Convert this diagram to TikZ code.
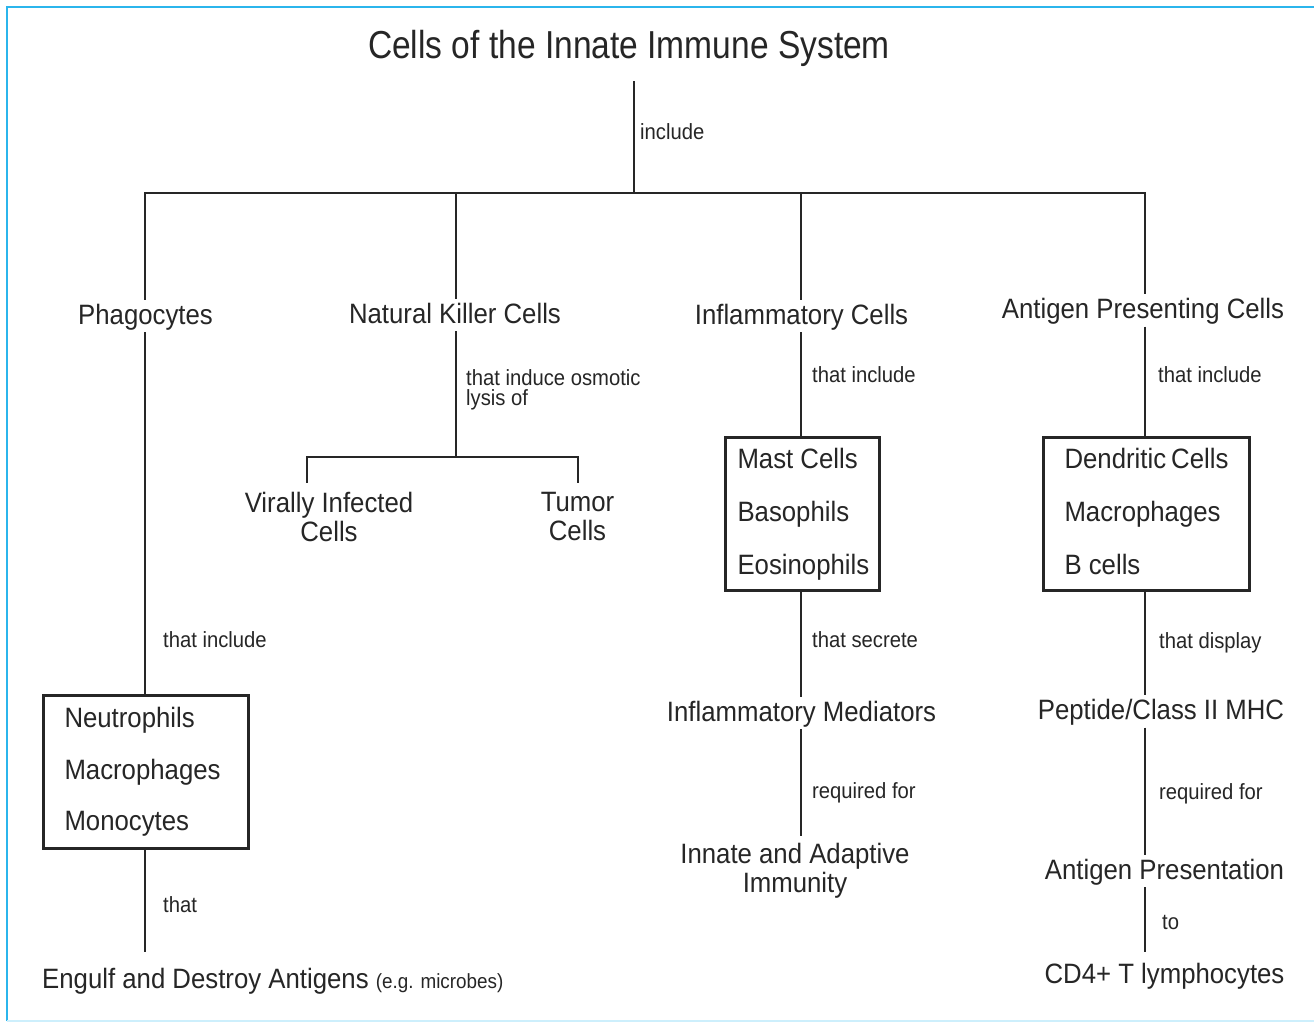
\documentclass[tikz,border=0pt]{standalone}
\usepackage{fontspec}
\setmainfont{Liberation Sans}[FakeStretch=0.92]
\newfontfamily\titlefont{Liberation Sans}[FakeStretch=0.86]
\definecolor{ink}{HTML}{262626}
\definecolor{frameblue}{HTML}{2BB5EC}
\definecolor{framelight}{HTML}{CDEFFC}
% three left-aligned lines of fixed width and fixed line pitch
\newcommand\listlines[5]{\vbox{\baselineskip=#1\relax
  \hbox to #2{#3\hfil}\hbox to #2{#4\hfil}\hbox to #2{#5\hfil}}}
\begin{document}
\begin{tikzpicture}[x=1pt,y=-1pt,
  conn/.style={draw=ink, line width=2.6pt},
  lab/.style={font=\fontsize{28}{29}\selectfont, text=ink, anchor=base,
    text height=21pt, text depth=5pt, inner xsep=0pt, inner ysep=3pt},
  labtwo/.style={font=\fontsize{28}{29}\selectfont, text=ink, anchor=north,
    align=center, inner xsep=0pt},
  sm/.style={font=\fontsize{22}{20}\selectfont, text=ink, anchor=base west,
    inner sep=0pt},
  ttl/.style={font=\titlefont\fontsize{39}{40}\selectfont, text=ink, anchor=base,
    text depth=17pt, inner sep=6pt},
  listbox/.style={draw=ink, line width=3pt, anchor=north west,
    font=\fontsize{28}{29}\selectfont, text=ink, inner ysep=0pt,
    minimum height=153pt}
]
\useasboundingbox (0,0) rectangle (1314,1023);
\fill[white] (0,0) rectangle (1314,1023);
% frame
\draw[frameblue, line width=2pt] (7,1021) -- (7,7) -- (1314,7);
\draw[framelight, line width=2pt] (7,1021) -- (1314,1021);

% junctions
\coordinate (j0) at (634,193);
\coordinate (jP) at (145,193);
\coordinate (jN) at (456,193);
\coordinate (jI) at (801,193);
\coordinate (jA) at (1145,193);
\coordinate (kN) at (456,457);
\coordinate (kV) at (307,457);
\coordinate (kT) at (578,457);

% nodes
\node[ttl] (title) at (629,58) {Cells of the Innate Immune System};
\node[sm] (lInc) at (640,139.5) {include};

\node[lab] (phago) at (145.5,324) {Phagocytes};
\node[lab] (nk) at (455,323) {Natural Killer Cells};
\node[lab] (infl) at (801.5,324) {Inflammatory Cells};
\node[lab] (apc) at (1143,318.5) {Antigen Presenting Cells};

\node[sm, anchor=north west] (lNK) at (466,369)
  {\vbox{\baselineskip=20pt\hbox{that induce osmotic}\hbox{lysis of}}};
\node[labtwo, inner ysep=10pt] (virus) at (329,482.5) {Virally Infected\\Cells};
\node[labtwo, inner ysep=10pt] (tumor) at (577.5,482.5) {Tumor\\Cells};

\node[sm] (lInfl) at (812,382.5) {that include};
\node[sm] (lApc) at (1158,382) {that include};

\node[listbox, inner xsep=12pt] (box2) at (724,436)
  {\listlines{53pt}{130pt}{Mast Cells}{Basophils}{Eosinophils}};
\node[listbox, inner xsep=21pt] (box3) at (1042,436)
  {\listlines{53pt}{164pt}{Dendritic Cells}{Macrophages}{B cells\vphantom{y}}};

\node[sm] (lP) at (163,647) {that include};
\node[listbox, inner xsep=21pt] (box1) at (42,694)
  {\listlines{51.5pt}{163pt}{Neutrophils}{Macrophages}{Monocytes}};
\node[sm] (lThat) at (163,912) {that};
\node[lab, anchor=base west] (engulf) at (42,988)
  {Engulf and Destroy Antigens {\fontsize{20.5}{21}\selectfont (e.g. microbes)}};

\node[sm] (lSec) at (812,647) {that secrete};
\node[lab] (med) at (801.5,721) {Inflammatory Mediators};
\node[sm] (lReq1) at (812,798) {required for};
\node[labtwo, inner ysep=7pt] (innate) at (795,836) {Innate and Adaptive\\Immunity};

\node[sm] (lDisp) at (1159,648) {that display};
\node[lab] (pep) at (1161,719.5) {Peptide/Class II MHC};
\node[sm] (lReq2) at (1159,799) {required for};
\node[lab] (ap) at (1164.5,879) {Antigen Presentation};
\node[sm] (lTo) at (1162,929) {to};
\node[lab] (cd4) at (1164.5,983) {CD4+ T lymphocytes};

% connectors
\draw[conn] (title.south -| j0) -- (j0);
\draw[conn] (phago.north -| jP) -- (jP) -- (jA) -- (apc.north -| jA);
\draw[conn] (jN) -- (nk.north -| jN);
\draw[conn] (jI) -- (infl.north -| jI);

\draw[conn] (phago.south -| jP) -- (box1.north -| jP);
\draw[conn, shorten >=12pt] (box1.south -| jP) -- (engulf.north -| jP);

\draw[conn] (nk.south -| jN) -- (kN);
\draw[conn] (virus.north -| kV) -- (kV) -- (kT) -- (tumor.north -| kT);

\draw[conn] (infl.south -| jI) -- (box2.north -| jI);
\draw[conn] (box2.south -| jI) -- (med.north -| jI);
\draw[conn] (med.south -| jI) -- (innate.north -| jI);

\draw[conn] (apc.south -| jA) -- (box3.north -| jA);
\draw[conn] (box3.south -| jA) -- (pep.north -| jA);
\draw[conn] (pep.south -| jA) -- (ap.north -| jA);
\draw[conn, shorten >=7pt] (ap.south -| jA) -- (cd4.north -| jA);
\end{tikzpicture}
\end{document}
